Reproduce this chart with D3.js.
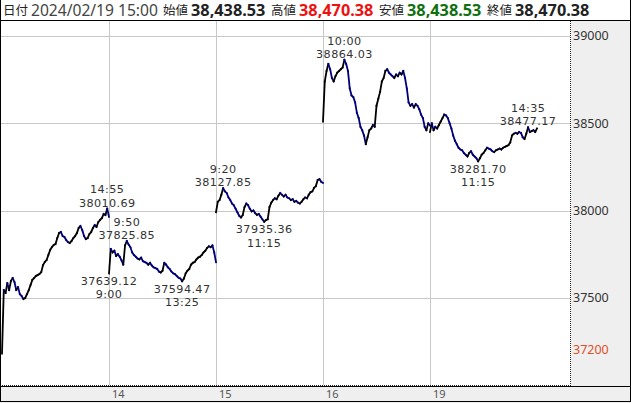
<!DOCTYPE html>
<html><head><meta charset="utf-8">
<script src="https://cdn.jsdelivr.net/npm/d3@7/dist/d3.min.js"></script>
<style>
html,body{margin:0;padding:0;background:#fff;}
svg{display:block;}
</style></head>
<body>
<svg id="chart" width="631" height="403"></svg>
<script>
// ---------- data ----------
const dayLabels = ["13", "14", "15", "16", "19"];
const xTickLabels = ["14", "15", "16", "19"];
const yTicks = [37500, 38000, 38500, 39000];
const markPrice = 37200;

// 5-minute points per session day: index 0 = 9:00 ... 30 = 11:30/12:30 ... 60 = 15:00
const feb13 = [37180,37544,37527,37584,37544,37596,37613,37590,37544,37561,
  37521,37510,37493,37499,37521,37544,37573,37602,37613,37624,
  37630,37636,37647,37687,37705,37716,37745,37774,37791,37802,
  37808,37842,37871,37877,37854,37848,37831,37819,37814,37825,
  37842,37854,37871,37900,37911,37888,37854,37836,37842,37865,
  37877,37900,37917,37906,37934,37946,37957,37980,37974,38010.69,37963.97];
const feb14 = [37639.12,37780,37760,37770,37740,37750,37735,37715,37690,37800,
  37825.85,37805,37790,37760,37745,37735,37725,37720,37730,37710,
  37705,37700,37690,37700,37685,37675,37670,37665,37650,37645,
  37655,37700,37690,37675,37665,37650,37640,37635,37625,37615,
  37610,37594.47,37610,37640,37655,37665,37690,37700,37705,37720,
  37730,37735,37745,37760,37770,37785,37795,37790,37800,37760,37703.32];
const feb15 = [37990,38050,38060,38090,38127.85,38110,38100,38075,38060,38040,
  38030,38010,37990,37970,37960,37975,38020,38040,38030,38010,
  37995,38000,37985,37975,37980,37965,37950,37935.36,37945,37950,
  38020,38045,38060,38070,38065,38085,38100,38090,38080,38090,
  38075,38070,38060,38065,38050,38055,38045,38040,38050,38065,
  38075,38070,38090,38105,38110,38130,38140,38175,38180,38165,38157.94];
const feb16 = [38510,38740,38800,38840,38810,38760,38740,38770,38790,38800,
  38810,38820,38864.03,38840,38800,38700,38660,38650,38620,38560,
  38530,38480,38460,38430,38380,38420,38460,38470,38490,38480,
  38600,38640,38680,38740,38760,38800,38810,38790,38780,38770,
  38760,38780,38770,38790,38780,38800,38760,38700,38620,38600,
  38610,38590,38610,38600,38580,38550,38530,38480,38460,38500,38487.24];
const feb19 = [38450,38500,38460,38480,38470,38490,38510,38530,38550,38545,
  38530,38500,38470,38430,38400,38380,38360,38350,38345,38330,
  38320,38310,38330,38340,38320,38310,38300,38281.70,38300,38320,
  38330,38345,38360,38355,38350,38340,38335,38345,38350,38355,
  38350,38360,38365,38370,38375,38390,38430,38440,38445,38440,
  38450,38445,38420,38410,38440,38477.17,38450,38455,38460,38450,38470.38];
const sessions = [feb13, feb14, feb15, feb16, feb19];

// annotations: day index, slot, time label, value, high/low
const annDay   = [0, 1, 1, 1, 2, 2, 3, 4, 4];
const annSlot  = [59, 10, 0, 41, 4, 27, 12, 27, 55];
const annTime  = ["14:55", "9:50", "9:00", "13:25", "9:20", "11:15", "10:00", "11:15", "14:35"];
const annValue = [38010.69, 37825.85, 37639.12, 37594.47, 38127.85, 37935.36, 38864.03, 38281.70, 38477.17];
const annKind  = ["high", "high", "low", "low", "high", "low", "high", "low", "high"];

// header
const headerLabels = ["日付", "始値", "高値", "安値", "終値"];
const headerDate = "2024/02/19 15:00";
const headerValues = [38438.53, 38470.38, 38438.53, 38470.38];

// ---------- layout ----------
const W = 631, H = 403;
const plotL = 0, plotR = 570, plotT = 21, plotB = 385;
const slotsPerDay = 60;
const svg = d3.select("#chart");

const x = d3.scaleLinear().domain([0, slotsPerDay * sessions.length]).range([2, 537]);
const y = d3.scaleLinear().domain([37000, 39092]).range([plotB, 20]);

// backgrounds
svg.append("rect").attr("x", 0).attr("y", 0).attr("width", W).attr("height", H).attr("fill", "#fff");
svg.append("rect").attr("x", plotR + 1).attr("y", plotT).attr("width", W - plotR - 1).attr("height", plotB - plotT + 1).attr("fill", "#efefef");
svg.append("rect").attr("x", 0).attr("y", plotB + 1).attr("width", W).attr("height", H - plotB - 1).attr("fill", "#efefef");

// grid
const g = svg.append("g");
g.selectAll("line.hg").data(yTicks).join("line")
  .attr("x1", plotL).attr("x2", plotR)
  .attr("y1", d => Math.round(y(d)) + 0.5).attr("y2", d => Math.round(y(d)) + 0.5)
  .attr("stroke", "#c8c8c8").attr("stroke-width", 1);
g.selectAll("line.vg").data(xTickLabels).join("line")
  .attr("x1", (d, i) => Math.round(x((i + 1) * slotsPerDay)) + 0.5)
  .attr("x2", (d, i) => Math.round(x((i + 1) * slotsPerDay)) + 0.5)
  .attr("y1", plotT).attr("y2", plotB)
  .attr("stroke", "#c8c8c8").attr("stroke-width", 1);

// price segments (black = up, navy = down)
const segs = [];
sessions.forEach((vals, d) => {
  for (let k = 0; k < vals.length - 1; k++) {
    segs.push({x1: x(d * slotsPerDay + k), y1: y(vals[k]), x2: x(d * slotsPerDay + k + 1), y2: y(vals[k + 1]), up: vals[k + 1] >= vals[k]});
  }
});
svg.append("g").selectAll("line").data(segs).join("line")
  .attr("x1", s => s.x1).attr("y1", s => s.y1).attr("x2", s => s.x2).attr("y2", s => s.y2)
  .attr("stroke", s => s.up ? "#000000" : "#00007a")
  .attr("stroke-width", 1.8).attr("stroke-linecap", "square");

// annotations
const fmt2 = d3.format(".2f");
const ann = svg.append("g").attr("font-family", "'DejaVu Sans', sans-serif")
  .attr("font-size", "11.2px").attr("letter-spacing", "0.4px").attr("fill", "#333").attr("text-anchor", "middle");
annValue.forEach((v, i) => {
  const px = x(annDay[i] * slotsPerDay + annSlot[i]);
  const py = y(v);
  if (annKind[i] === "high") {
    ann.append("text").attr("x", px).attr("y", py - 15.2).text(annTime[i]);
    ann.append("text").attr("x", px).attr("y", py - 1.8).text(fmt2(v));
  } else {
    ann.append("text").attr("x", px).attr("y", py + 11.5).text(fmt2(v));
    ann.append("text").attr("x", px).attr("y", py + 24.9).text(annTime[i]);
  }
});

// frame lines
svg.append("line").attr("x1", plotR + 0.5).attr("x2", plotR + 0.5).attr("y1", plotT).attr("y2", plotB + 1)
  .attr("stroke", "#222").attr("stroke-dasharray", "1,1");
svg.append("line").attr("x1", 0).attr("x2", plotR).attr("y1", plotB + 0.5).attr("y2", plotB + 0.5)
  .attr("stroke", "#222").attr("stroke-dasharray", "1,1");
svg.append("line").attr("x1", 0).attr("x2", W).attr("y1", 20.5).attr("y2", 20.5).attr("stroke", "#000");
svg.append("line").attr("x1", 0).attr("x2", W).attr("y1", plotB + 1.5).attr("y2", plotB + 1.5).attr("stroke", "#000");
svg.append("line").attr("x1", 0).attr("x2", W).attr("y1", H - 1.5).attr("y2", H - 1.5).attr("stroke", "#000");
svg.append("line").attr("x1", 0.5).attr("x2", 0.5).attr("y1", 0).attr("y2", H - 1).attr("stroke", "#000");
svg.append("line").attr("x1", W - 0.5).attr("x2", W - 0.5).attr("y1", 0).attr("y2", H - 1).attr("stroke", "#000");

// right axis labels
const ax = svg.append("g").attr("font-family", "'Noto Sans', 'DejaVu Sans', sans-serif").attr("font-size", "12.5px");
ax.selectAll("text.yt").data(yTicks).join("text")
  .attr("x", 573).attr("y", d => y(d)).attr("dy", "0.35em").attr("fill", "#333").text(d => d);
ax.append("text").attr("x", 573).attr("y", y(markPrice)).attr("dy", "0.35em").attr("fill", "#e0502a").text(markPrice);

// x axis labels
svg.append("g").attr("font-family", "'Noto Sans', 'DejaVu Sans', sans-serif").attr("font-size", "11px").attr("fill", "#555")
  .selectAll("text").data(xTickLabels).join("text")
  .attr("x", (d, i) => x((i + 1) * slotsPerDay) + 3).attr("y", 398).text(d => d);

// header
const hd = svg.append("g");
const cjk = "'Noto Sans CJK JP', sans-serif";
const num = "'Noto Sans', 'DejaVu Sans', sans-serif";
const labelX = [3, 163, 271, 379, 487];
const valueX = [191, 299, 407, 515];
const valueColor = ["#222", "#ee1111", "#107010", "#222"];
const fmtC = d3.format(",.2f");
headerLabels.forEach((t, i) => {
  hd.append("text").attr("x", labelX[i]).attr("y", 15).attr("font-family", cjk).attr("font-size", "12.5px").attr("fill", "#222").text(t);
});
hd.append("text").attr("x", 31).attr("y", 16).attr("font-family", num).attr("font-size", "15.6px").attr("fill", "#444").text(headerDate);
headerValues.forEach((v, i) => {
  hd.append("text").attr("x", valueX[i]).attr("y", 16).attr("font-family", num).attr("font-weight", "bold")
    .attr("font-size", "16.3px").attr("fill", valueColor[i]).text(fmtC(v));
});
</script>
</body></html>
